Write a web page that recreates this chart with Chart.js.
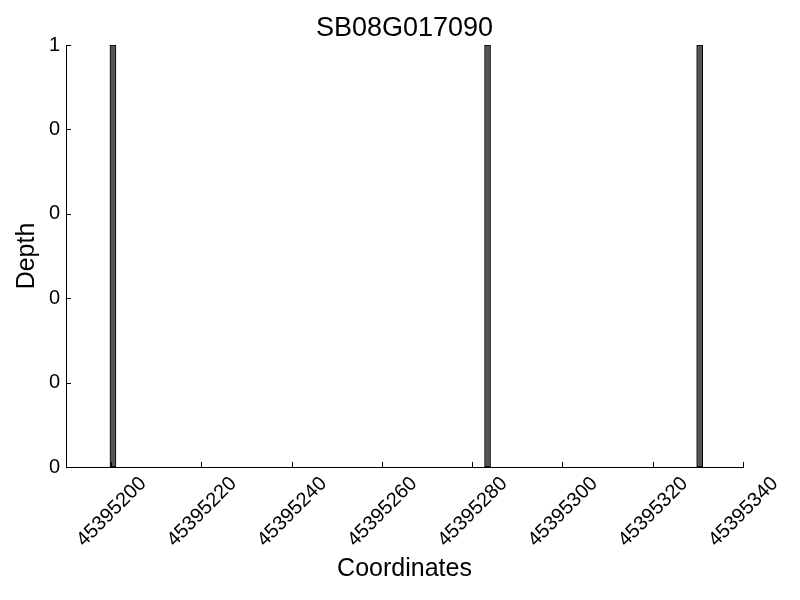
<!DOCTYPE html>
<html>
<head>
<meta charset="utf-8">
<script src="https://cdn.jsdelivr.net/npm/chart.js@4.4.1/dist/chart.umd.min.js"></script>
<style>
  html, body { margin: 0; padding: 0; background: #fff; }
  #wrap { width: 800px; height: 600px; }
</style>
</head>
<body>
<div id="wrap"><canvas id="chart" width="800" height="600"></canvas></div>
<script>
// data
const titleText = "SB08G017090";
const coordinates = [45395200, 45395283, 45395330];
const depths = [1, 1, 1];
const xTicks = [45395200, 45395220, 45395240, 45395260, 45395280, 45395300, 45395320, 45395340];
const yTicks = [0, 0.2, 0.4, 0.6, 0.8, 1];
const yTickLabels = ["0", "0", "0", "0", "0", "1"];
const xMin = 45395190;
const xMax = 45395340;
// bars are edge aligned, 0.8 wide, so their centre sits 0.4 right of the coordinate
const barShift = 0.4;

const fontFamily = "'Liberation Sans', Arial, sans-serif";

// matplotlib style ticks pointing into the plot
const innerTicks = {
    id: "innerTicks",
    afterDraw(chart) {
        const { ctx, chartArea } = chart;
        const x = chart.scales.x;
        const y = chart.scales.y;
        ctx.save();
        ctx.strokeStyle = "#000";
        ctx.lineWidth = 1;
        ctx.beginPath();
        x.ticks.forEach((t) => {
            const px = Math.round(x.getPixelForValue(t.value)) + 0.5;
            ctx.moveTo(px, chartArea.bottom);
            ctx.lineTo(px, chartArea.bottom - 5);
        });
        y.ticks.forEach((t) => {
            const py = Math.round(y.getPixelForValue(t.value)) + 0.5;
            ctx.moveTo(chartArea.left, py);
            ctx.lineTo(chartArea.left + 5, py);
        });
        ctx.stroke();
        ctx.restore();
    },
};

new Chart(document.getElementById("chart"), {
    type: "bar",
    data: {
        datasets: [
            {
                data: coordinates.map((c, i) => ({ x: c + barShift, y: depths[i] })),
                backgroundColor: "#555555",
                borderColor: "#000000",
                borderWidth: 1,
                borderSkipped: false,
                barThickness: 6,
            },
        ],
    },
    options: {
        responsive: false,
        animation: false,
        layout: { padding: { left: 0, right: 57, top: 0, bottom: 0 } },
        plugins: {
            legend: { display: false },
            tooltip: { enabled: false },
            title: {
                display: true,
                fullSize: false,
                text: titleText,
                color: "#000",
                font: { family: fontFamily, size: 27, weight: "normal", lineHeight: 1.2 },
                padding: { top: 12, bottom: 0.6 },
            },
        },
        scales: {
            x: {
                type: "linear",
                offset: false,
                min: xMin,
                max: xMax,
                afterBuildTicks: (axis) => {
                    axis.ticks = xTicks.map((v) => ({ value: v }));
                },
                afterFit: (axis) => {
                    axis.height = 133;
                },
                grid: { display: false, drawTicks: false },
                border: { display: true, color: "#000", width: 1 },
                ticks: {
                    color: "#000",
                    font: { family: fontFamily, size: 20 },
                    minRotation: 45,
                    maxRotation: 45,
                    autoSkip: false,
                    padding: 5,
                    labelOffset: 32,
                    callback: (v) => String(v),
                },
                title: {
                    display: true,
                    text: "Coordinates",
                    color: "#000",
                    font: { family: fontFamily, size: 25 },
                    padding: { top: 0, bottom: 16 },
                },
            },
            y: {
                min: 0,
                max: 1,
                afterBuildTicks: (axis) => {
                    axis.ticks = yTicks.map((v) => ({ value: v }));
                },
                afterFit: (axis) => {
                    axis.width = 66;
                },
                grid: { display: false, drawTicks: false },
                border: { display: true, color: "#000", width: 1 },
                ticks: {
                    color: "#000",
                    font: { family: fontFamily, size: 20 },
                    padding: 6,
                    callback: (v, i) => yTickLabels[i],
                },
                title: {
                    display: true,
                    text: "Depth",
                    color: "#000",
                    font: { family: fontFamily, size: 25 },
                    padding: { top: 12, bottom: 0 },
                },
            },
        },
    },
    plugins: [innerTicks],
});
</script>
</body>
</html>
